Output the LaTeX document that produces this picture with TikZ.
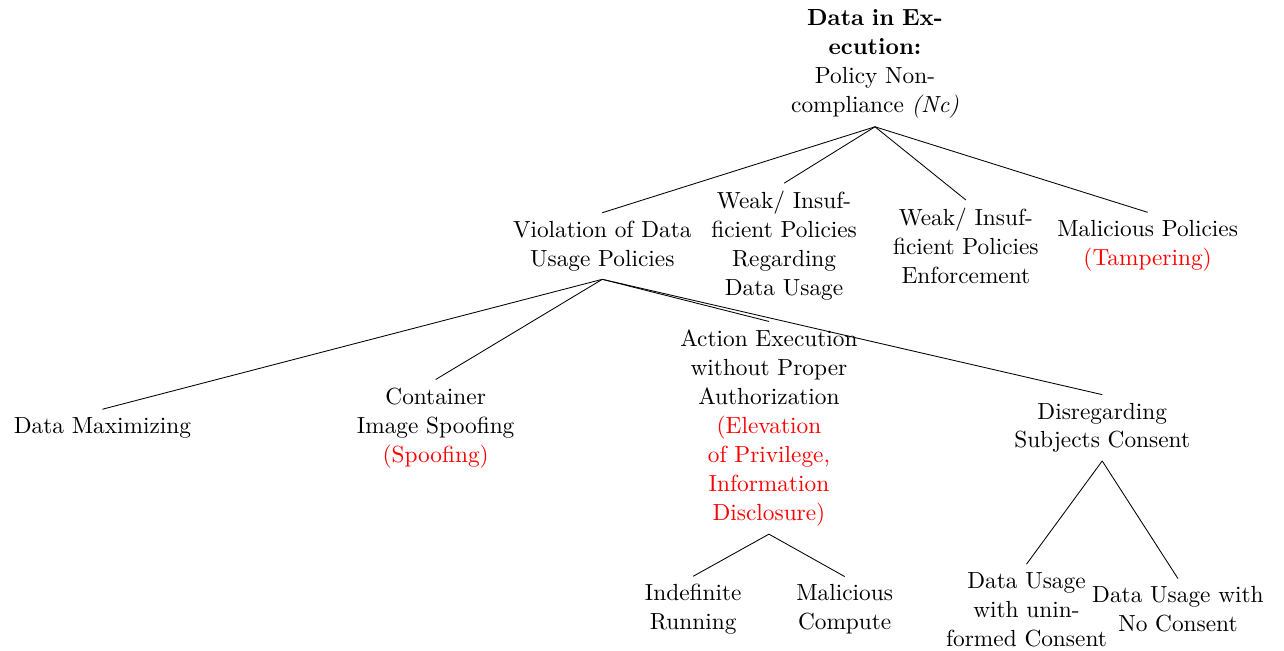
\documentclass[11pt,tikz,border=0pt]{standalone}
\usepackage{xcolor}

\newcommand{\thr}[1]{\textcolor{red}{#1}}

\begin{document}
\begin{tikzpicture}[box/.style={text width=3cm, align=center}]

        \useasboundingbox (-14.44,1.06) rectangle (6.75,-9.68);

        % Root
        \node[box] (root) at (0,0) {\textbf{Data in Execution:} Policy Non-compliance \textit{(Nc)}};

        % First level
        \node[box] (viol) at (-4.5,-3) {Violation of Data Usage Policies};
        \node[box] (weakreg) at (-1.5,-3) {Weak/ Insufficient Policies Regarding Data Usage};
        \node[box] (weakenf) at (1.5,-3) {Weak/ Insufficient Policies Enforcement};
        \node[box] (malpol) at (4.5,-3) {Malicious Policies \thr{(Tampering)}};

        \draw (root.south) -- (viol.north);
        \draw (root.south) -- (weakreg.north);
        \draw (root.south) -- (weakenf.north);
        \draw (root.south) -- (malpol.north);

        % Second level
        \node[box] (datamax) at (-12.75,-6) {Data Maximizing};
        \node[box] (contspoof) at (-7.25,-6) {Container Image Spoofing \thr{(Spoofing)}};
        \node[box] (actexec) at (-1.75,-6) {Action Execution without Proper Authorization \thr{(Elevation of Privilege, Information Disclosure)}};
        \node[box] (disreg) at (3.75,-6) {Disregarding Subjects Consent};

        \draw (viol.south) -- (datamax.north);
        \draw (viol.south) -- (contspoof.north);
        \draw (viol.south) -- (actexec.north);
        \draw (viol.south) -- (disreg.north);

        % Third level
        \node[box] (indef) at (-3,-9) {Indefinite Running};
        \node[box] (malcomp) at (-0.5,-9) {Malicious Compute};
        \node[box] (uninf) at (2.5,-9) {Data Usage with uninformed Consent};
        \node[box] (nocons) at (5,-9) {Data Usage with No Consent};

        \draw (actexec.south) -- (indef.north);
        \draw (actexec.south) -- (malcomp.north);
        \draw (disreg.south) -- (uninf.north);
        \draw (disreg.south) -- (nocons.north);

    \end{tikzpicture}
\end{document}
